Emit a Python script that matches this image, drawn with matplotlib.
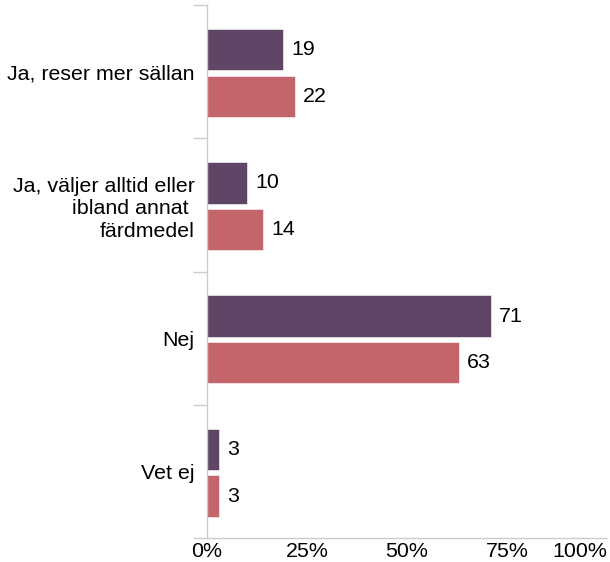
import matplotlib.pyplot as plt
import numpy as np

categories = ["Ja, reser mer sällan",
              "Ja, väljer alltid eller\nibland annat \nfärdmedel",
              "Nej",
              "Vet ej"]
series_a = [19, 10, 71, 3]
series_b = [22, 14, 63, 3]
x_ticks = [0, 25, 50, 75, 100]
x_labels = ["0%", "25%", "50%", "75%", "100%"]

purple = "#5f4666"
pink = "#c4646b"
grey = "#cccccc"
fs = 15.4

plt.rcParams['font.family'] = ['Liberation Sans', 'DejaVu Sans']

fig = plt.figure(figsize=(6.10, 5.62), dpi=100)
ax = fig.add_axes([207 / 610, 24 / 562, 400 / 610, 533 / 562])

y = np.arange(len(categories))
h = 0.31
ax.barh(y - 0.165, series_a, height=h, color=purple, edgecolor="white", linewidth=0.4)
ax.barh(y + 0.185, series_b, height=h, color=pink, edgecolor="white", linewidth=0.4)

for yi, a, b in zip(y, series_a, series_b):
    ax.annotate(str(a), (a, yi - 0.165), xytext=(6, 0), textcoords="offset points",
                va="center", ha="left", fontsize=fs)
    ax.annotate(str(b), (b, yi + 0.185), xytext=(6, 0), textcoords="offset points",
                va="center", ha="left", fontsize=fs)

ax.set_xlim(0, 100)
ax.set_ylim(3.5, -0.5)

ax.set_yticks(y)
ax.set_yticklabels(categories, fontsize=fs, linespacing=1.25)
ax.tick_params(axis="y", which="major", length=0, pad=9)
ax.set_yticks(np.arange(-0.5, 4.0, 1.0), minor=True)
ax.tick_params(axis="y", which="minor", length=10, color=grey, width=1)

ax.set_xticks(x_ticks)
ax.set_xticklabels(x_labels, fontsize=fs)
ax.tick_params(axis="x", length=0, pad=3)
ax.get_xticklabels()[-1].set_horizontalalignment("right")

for s in ["top", "right"]:
    ax.spines[s].set_visible(False)
for s in ["left", "bottom"]:
    ax.spines[s].set_color(grey)
    ax.spines[s].set_linewidth(1)

fig.savefig("out.png", dpi=100)
